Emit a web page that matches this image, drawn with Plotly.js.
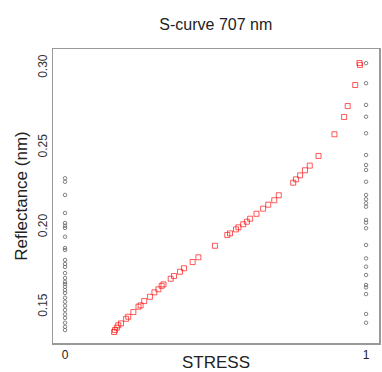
<!DOCTYPE html>
<html>
<head>
<meta charset="utf-8">
<script src="https://cdn.plot.ly/plotly-3.0.1.min.js"></script>
<style>html,body{margin:0;padding:0;background:#fff;}#chart{width:382px;height:372px;}</style>
</head>
<body>
<div id="chart"></div>
<script>
// S-curve points (red squares)
const curveStress = [0.163,0.166,0.172,0.177,0.186,0.203,0.210,0.227,0.244,0.251,0.263,0.282,0.297,0.310,0.321,0.327,0.351,0.362,0.382,0.395,0.424,0.443,0.498,0.539,0.548,0.568,0.576,0.592,0.604,0.615,0.636,0.658,0.675,0.695,0.710,0.758,0.767,0.781,0.797,0.813,0.842,0.895,0.927,0.939,0.964,0.978,0.980];
const curveRefl = [0.1343,0.1355,0.1370,0.1385,0.1397,0.1426,0.1439,0.1468,0.1502,0.1510,0.1537,0.1564,0.1592,0.1611,0.1633,0.1642,0.1677,0.1694,0.1721,0.1743,0.1782,0.1812,0.1884,0.1952,0.1962,0.1987,0.2000,0.2019,0.2035,0.2054,0.2085,0.2117,0.2142,0.2170,0.2201,0.2280,0.2301,0.2326,0.2358,0.2387,0.2448,0.2584,0.2692,0.2761,0.2893,0.3031,0.3019];
// Observations at stress 0
const refl0 = [0.2308,0.2286,0.2203,0.2090,0.2027,0.2010,0.1996,0.1941,0.1870,0.1858,0.1795,0.1770,0.1751,0.1713,0.1682,0.1658,0.1644,0.1627,0.1606,0.1588,0.1558,0.1533,0.1508,0.1481,0.1454,0.1431,0.1401,0.1376,0.1355];
// Observations at stress 1
const refl1 = [0.3030,0.2904,0.2768,0.2694,0.2590,0.2454,0.2391,0.2360,0.2286,0.2203,0.2176,0.2151,0.2129,0.2046,0.2029,0.1994,0.1889,0.1805,0.1753,0.1701,0.1638,0.1623,0.1581,0.1456,0.1401];
const xTickVals = [0, 1];
const xTickText = ['0', '1'];
const yTickVals = [0.15, 0.20, 0.25, 0.30];
const yTickText = ['0.15', '0.20', '0.25', '0.30'];

const obsMarker = {symbol: 'circle-open', size: 3.5, color: '#666', line: {width: 0.8, color: '#666'}};
const traces = [
  {x: refl0.map(() => 0), y: refl0, type: 'scatter', mode: 'markers', marker: obsMarker, showlegend: false},
  {x: refl1.map(() => 1), y: refl1, type: 'scatter', mode: 'markers', marker: obsMarker, showlegend: false},
  {x: curveStress, y: curveRefl, type: 'scatter', mode: 'markers',
   marker: {symbol: 'square-open', size: 5, color: 'rgba(255,0,0,0.65)', line: {width: 1, color: 'rgba(255,0,0,0.65)'}}, showlegend: false}
];
const font = 'Liberation Sans, Arial, sans-serif';
const layout = {
  width: 382, height: 372,
  margin: {l: 53, r: 3, t: 49, b: 29},
  paper_bgcolor: '#fff', plot_bgcolor: '#fff',
  title: {text: 'S-curve 707 nm', font: {family: font, size: 16, color: '#222'}, x: 0.565, xanchor: 'center', y: 0.935, yanchor: 'middle'},
  xaxis: {range: [-0.04, 1.043], tickvals: xTickVals, ticktext: xTickText, showgrid: false, zeroline: false,
    showline: true, mirror: true, linecolor: '#999', linewidth: 1.5, ticks: '', ticklen: 0,
    tickfont: {family: font, size: 12, color: '#222'},
    title: {text: 'STRESS', font: {family: font, size: 17, color: '#222'}, standoff: 0}},
  yaxis: {range: [0.1274, 0.3119], tickvals: yTickVals, ticktext: yTickText, showgrid: false, zeroline: false,
    showline: true, mirror: true, linecolor: '#999', linewidth: 1.5, ticks: '', ticklen: 0, tickangle: -90,
    tickfont: {family: font, size: 12, color: '#333'},
    title: {text: 'Reflectance (nm)', font: {family: font, size: 17, color: '#222'}, standoff: 4}}
};
Plotly.newPlot('chart', traces, layout, {displayModeBar: false, staticPlot: true});
</script>
</body>
</html>
